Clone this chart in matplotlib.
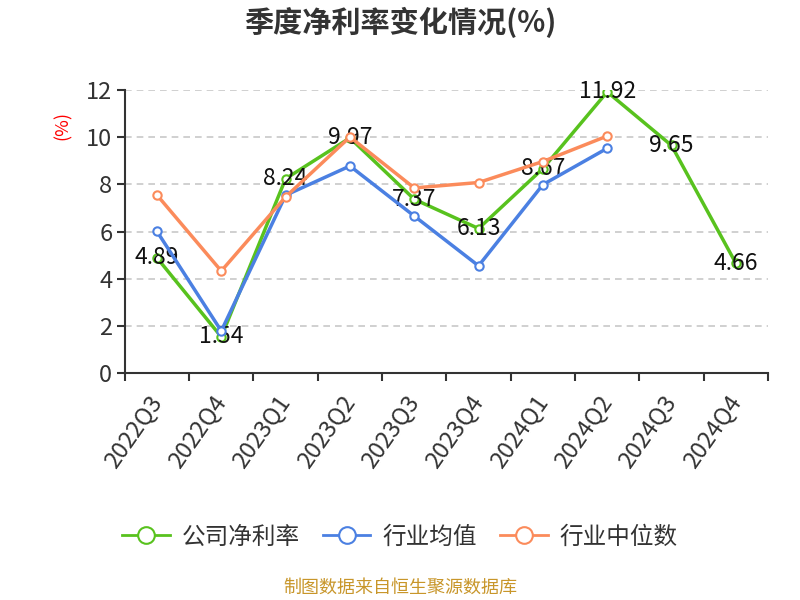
import matplotlib
matplotlib.use("Agg")
import matplotlib.pyplot as plt
from matplotlib.ticker import FixedLocator, NullFormatter

plt.rcParams['font.family'] = ['Noto Sans CJK SC', 'DejaVu Sans']

quarters = ["2022Q3", "2022Q4", "2023Q1", "2023Q2", "2023Q3",
            "2023Q4", "2024Q1", "2024Q2", "2024Q3", "2024Q4"]
company = [4.89, 1.54, 8.24, 9.97, 7.37, 6.13, 8.67, 11.92, 9.65, 4.66]
industry_mean = [6.01, 1.79, 7.54, 8.78, 6.66, 4.55, 7.99, 9.53]
industry_median = [7.55, 4.33, 7.47, 10.01, 7.85, 8.08, 8.97, 10.05]

c_green = "#58c21e"
c_blue = "#4b80e2"
c_orange = "#fb8b5b"

fig = plt.figure(figsize=(8, 6), dpi=100)
ax = fig.add_axes([0.156, 0.378, 0.804, 0.472])

x = list(range(len(quarters)))
mk = dict(marker='o', markersize=6, markerfacecolor='white', markeredgewidth=1.5)
ax.plot(x, company, color=c_green, lw=2.5, zorder=3, markeredgecolor=c_green, **mk)
for xi, v in zip(x, company):
    ax.text(xi, v, f"{v:.2f}", ha='center', va='center', fontsize=16.5,
            color='#111111', zorder=4)
ax.plot(x[:len(industry_mean)], industry_mean, color=c_blue, lw=2.5, zorder=5,
        markeredgecolor=c_blue, **mk)
ax.plot(x[:len(industry_median)], industry_median, color=c_orange, lw=2.5, zorder=6,
        markeredgecolor=c_orange, **mk)

ax.set_xlim(-0.5, len(quarters) - 0.5)
ax.set_ylim(0, 12)
ax.set_yticks(range(0, 13, 2))
ax.yaxis.grid(True, linestyle=(0, (4, 3)), color='#c8c8c8', lw=1.2)
ax.set_axisbelow(True)

ax.xaxis.set_major_locator(FixedLocator([i - 0.5 for i in range(len(quarters) + 1)]))
ax.xaxis.set_major_formatter(NullFormatter())
ax.xaxis.set_minor_locator(FixedLocator(x))
ax.set_xticks(x, minor=True)
ax.set_xticklabels(quarters, minor=True, rotation=55, ha='right', va='center',
                   rotation_mode='anchor', fontsize=17, color='#333333')
ax.tick_params(axis='x', which='minor', length=0, pad=18)
ax.tick_params(axis='x', which='major', length=6, width=1.5, color='#333333')
ax.tick_params(axis='y', length=6, width=1.5, color='#333333', labelsize=17,
               labelcolor='#333333', pad=3)

for s in ['top', 'right']:
    ax.spines[s].set_visible(False)
for s in ['left', 'bottom']:
    ax.spines[s].set_color('#333333')
    ax.spines[s].set_linewidth(1.5)

fig.text(0.078, 0.79, "(%)", color='red', rotation=90, ha='center', va='center', fontsize=13)
fig.text(0.5, 0.962, "季度净利率变化情况(%)", ha='center', va='center', fontsize=21,
         fontweight='bold', color='#333333')

handles = [
    plt.Line2D([], [], color=c_green, lw=2, marker='o', markersize=12,
               markerfacecolor='white', markeredgewidth=1.5),
    plt.Line2D([], [], color=c_blue, lw=2, marker='o', markersize=12,
               markerfacecolor='white', markeredgewidth=1.5),
    plt.Line2D([], [], color=c_orange, lw=2, marker='o', markersize=12,
               markerfacecolor='white', markeredgewidth=1.5),
]
fig.legend(handles, ["公司净利率", "行业均值", "行业中位数"], loc='center',
           bbox_to_anchor=(0.5, 0.105), ncol=3, frameon=False, fontsize=17,
           handlelength=2.0, columnspacing=1.0, handletextpad=0.5,
           labelcolor='#333333')

fig.text(0.5, 0.02, "制图数据来自恒生聚源数据库", ha='center', va='center',
         fontsize=13, color='#c8962a')

fig.savefig("out.png", dpi=100)
